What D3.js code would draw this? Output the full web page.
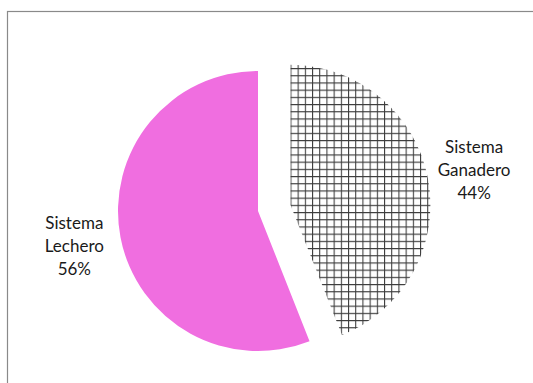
<!DOCTYPE html>
<html>
<head>
<meta charset="utf-8">
<script src="https://cdn.jsdelivr.net/npm/d3@7"></script>
<style>
  html, body { margin: 0; padding: 0; background: #fff; }
  svg { display: block; }
</style>
</head>
<body>
<script>
// Distribución por sistema productivo
const categories = ["Sistema Ganadero", "Sistema Lechero"];
const values = [44, 56];
const labelLines = [["Sistema", "Ganadero"], ["Sistema", "Lechero"]];

const W = 533, H = 383;
const cx = 258, cy = 211, radius = 140;
const explode = [33, 0];
const labelRadius = 187;
const pink = "#F06EE0";

const svg = d3.select("body").append("svg")
  .attr("width", W).attr("height", H);

// grid pattern for the exploded slice
const defs = svg.append("defs");
const step = 7.2;
const pat = defs.append("pattern")
  .attr("id", "grid")
  .attr("patternUnits", "userSpaceOnUse")
  .attr("width", step).attr("height", step);
pat.append("rect").attr("width", step).attr("height", step).attr("fill", "#fff");
pat.append("path")
  .attr("d", `M0 0.5H${step}M0.5 0V${step}`)
  .attr("stroke", "#3a3a3a").attr("stroke-width", 1.1).attr("fill", "none");

// chart frame
svg.append("rect")
  .attr("x", 7.5).attr("y", 11.5)
  .attr("width", 700).attr("height", 500)
  .attr("fill", "none").attr("stroke", "#8a8a8a").attr("stroke-width", 1.2);

const pie = d3.pie().sort(null).value(d => d).startAngle(0).endAngle(2 * Math.PI);
const arcs = pie(values);
const arc = d3.arc().innerRadius(0).outerRadius(radius);

const g = svg.append("g").attr("transform", `translate(${cx},${cy})`);

const slices = g.selectAll("g.slice").data(arcs).join("g")
  .attr("class", "slice")
  .attr("transform", (d, i) => {
    const a = (d.startAngle + d.endAngle) / 2;
    return `translate(${Math.sin(a) * explode[i]},${-Math.cos(a) * explode[i]})`;
  });

slices.append("path")
  .attr("d", arc)
  .attr("fill", (d, i) => i === 0 ? "url(#grid)" : pink);

slices.append("text")
  .attr("transform", d => {
    const a = (d.startAngle + d.endAngle) / 2;
    return `translate(${Math.sin(a) * labelRadius},${-Math.cos(a) * labelRadius})`;
  })
  .attr("text-anchor", "middle")
  .attr("font-family", "Lato, 'Open Sans', sans-serif")
  .attr("font-size", 17)
  .attr("fill", "#1a1a1a")
  .each(function(d, i) {
    const t = d3.select(this);
    const lines = [...labelLines[i], `${values[i]}%`];
    lines.forEach((s, k) => {
      t.append("tspan")
        .attr("x", 0)
        .attr("y", (k - 1) * 23)
        .attr("dy", "0.35em")
        .text(s);
    });
  });
</script>
</body>
</html>
